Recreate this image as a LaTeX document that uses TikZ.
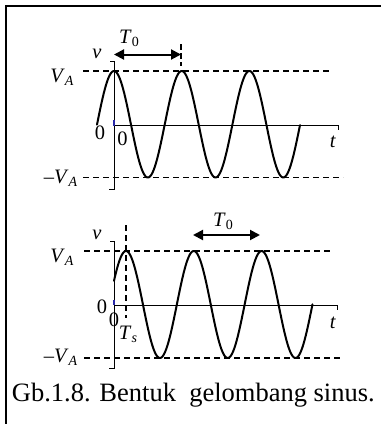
\documentclass[tikz,border=0pt]{standalone}
\usepackage{fontspec}
\setmainfont{Liberation Serif}
\usetikzlibrary{arrows.meta}
\definecolor{markblue}{RGB}{40,40,170}
\newcommand{\isub}[2]{\textit{#1}\raisebox{-0.35ex}{\fontsize{14}{14}\selectfont\textit{#2}}}
\newcommand{\rsub}[2]{\textit{#1}\raisebox{-0.35ex}{\fontsize{14}{14}\selectfont #2}}
\begin{document}
\begin{tikzpicture}[x=1pt,y=-1pt,
  axisline/.style={line width=1pt},
  guide/.style={line width=1.5pt, dash pattern=on 6pt off 4pt},
  wave/.style={line width=2pt, line join=round, line cap=round},
  span/.style={line width=2pt, {Triangle[length=10pt,width=10pt]}-{Triangle[length=10pt,width=10pt]}},
  lbl/.style={inner sep=0pt, font=\fontsize{20.5}{24}\selectfont},
  frameline/.style={line width=2.3pt},
  bluemark/.style={markblue, line width=1.5pt}]

\useasboundingbox (0,0) rectangle (381,424);

% frame
\coordinate (fl) at (6.2,424);
\coordinate (fc) at (6.2,6.2);
\coordinate (fr) at (381,6.2);
\draw[frameline] (fl) -- (fc) -- (fr);

% ---------------- top plot ----------------
\coordinate (a1t) at (114,61);
\coordinate (a1tl) at (110,61);
\coordinate (a1b) at (114,189);
\coordinate (a1bl) at (109,189);
\coordinate (h1l) at (114,125.5);
\coordinate (h1r) at (338,125.5);
\coordinate (h1rt) at (338,130);
\draw[axisline] (a1tl) -- (a1t) -- (a1b) -- (a1bl);
\draw[axisline] (h1l) -- (h1r) -- (h1rt);
\coordinate (b1) at (114,120);
\draw[bluemark] (b1) -- (h1l);

\coordinate (va1l) at (83,71);
\coordinate (va1r) at (330,71);
\coordinate (vn1l) at (83,177.5);
\coordinate (vn1r) at (343,177.5);
\draw[guide] (va1l) -- (va1r);
\draw[guide] (vn1l) -- (vn1r);

\draw[wave] plot[domain=97:300, samples=240, smooth] (\x, {124.25 - 53.25*cos((\x-114)*5.3176)});

\coordinate (p1l) at (114,54.5);
\coordinate (p1r) at (181,54.5);
\draw[span] (p1l) -- (p1r);
\coordinate (d1t) at (181,44);
\coordinate (d1b) at (181,66);
\draw[line width=1.5pt, dash pattern=on 6pt off 3pt] (d1t) -- (d1b);

\node[lbl] (T01) at (129,38) {\rsub{T}{0}};
\node[lbl] (v1) at (97,54) {\textit{v}};
\node[lbl] (VA1) at (62,77) {\isub{V}{A}};
\node[lbl] (z1a) at (100,133) {0};
\node[lbl] (z1b) at (122.5,138.5) {0};
\node[lbl] (t1) at (333,142) {\textit{t}};
\node[lbl] (VN1) at (60.5,178) {–\isub{V}{A}};

% ---------------- bottom plot ----------------
\coordinate (a2t) at (114,241.5);
\coordinate (a2tl) at (110,241.5);
\coordinate (a2b) at (114,368);
\coordinate (a2bl) at (109,368);
\coordinate (h2l) at (114,305);
\coordinate (h2r) at (337,305);
\coordinate (h2rt) at (337,309.5);
\draw[axisline] (a2tl) -- (a2t) -- (a2b) -- (a2bl);
\draw[axisline] (h2l) -- (h2r) -- (h2rt);
\coordinate (b2) at (114,299.5);
\draw[bluemark] (b2) -- (h2l);

\coordinate (va2l) at (84,251);
\coordinate (va2r) at (330,251);
\coordinate (vn2l) at (84,358);
\coordinate (vn2r) at (343,358);
\draw[guide] (va2l) -- (va2r);
\draw[guide] (vn2l) -- (vn2r);

\draw[wave] plot[domain=114:312.5, samples=240, smooth] (\x, {304.5 - 53.5*cos((\x-126)*5.3097)});

\coordinate (ts1) at (126,225);
\coordinate (ts2) at (126,318);
\draw[guide] (ts1) -- (ts2);

\coordinate (p2l) at (193,235);
\coordinate (p2r) at (260,235);
\draw[span] (p2l) -- (p2r);

\node[lbl] (T02) at (223,221) {\rsub{T}{0}};
\node[lbl] (v2) at (97,234.5) {\textit{v}};
\node[lbl] (VA2) at (62,257) {\isub{V}{A}};
\node[lbl] (z2a) at (102,307) {0};
\node[lbl] (z2b) at (114,320) {0};
\node[lbl] (Ts) at (128,334) {\isub{T}{s}};
\node[lbl] (t2) at (333,323) {\textit{t}};
\node[lbl] (VN2) at (60.5,357) {–\isub{V}{A}};

% caption
\node[anchor=base west, inner sep=0pt, font=\fontsize{26.5}{30}\selectfont] (cap) at (11.7,401.7) {Gb.1.8. Bentuk\ \ gelombang sinus.};
\end{tikzpicture}
\end{document}
